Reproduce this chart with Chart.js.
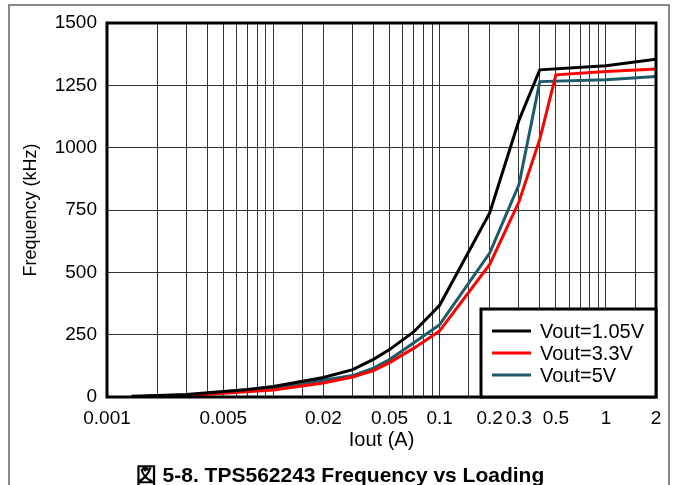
<!DOCTYPE html>
<html>
<head>
<meta charset="utf-8">
<script src="https://cdn.jsdelivr.net/npm/chart.js@4"></script>
<style>
  body { margin: 0; background: #fff; }
  #frame { position: absolute; left: 8px; top: 4px; width: 662px; height: 600px; border: 2px solid #888; border-bottom: none; box-sizing: border-box; }
  #wrap { position: absolute; left: 0; top: 0; width: 676px; height: 485px; }
  #caption { position: absolute; left: 0; width: 680px; top: 461px; text-align: center;
             font: bold 21px "Liberation Sans", Arial, sans-serif; color: #000; }
</style>
</head>
<body>
<div id="frame"></div>
<div id="wrap"><canvas id="chart" width="676" height="485"></canvas></div>
<div id="caption">図 5-8. TPS562243 Frequency vs Loading</div>
<script>
// datos
const seriesNames = ["Vout=1.05V", "Vout=3.3V", "Vout=5V"];
const seriesColors = ["#000000", "#ff0000", "#1d5a6a"];

const iout105 = [0.0014, 0.002, 0.003, 0.005, 0.007, 0.01, 0.02, 0.03, 0.04, 0.05, 0.07, 0.1, 0.2, 0.3, 0.4, 1, 2];
const freq105 = [3, 6, 10, 22, 30, 42, 78, 110, 151, 190, 262, 368, 738, 1110, 1312, 1329, 1355];

const iout33 = [0.0017, 0.003, 0.005, 0.01, 0.02, 0.03, 0.04, 0.05, 0.07, 0.1, 0.2, 0.3, 0.4, 0.5, 1, 2];
const freq33 = [2, 6, 15, 28, 56, 80, 106, 138, 196, 265, 532, 783, 1033, 1292, 1305, 1316];

const iout5 = [0.0017, 0.003, 0.005, 0.01, 0.02, 0.03, 0.04, 0.05, 0.07, 0.1, 0.2, 0.3, 0.4, 1, 2];
const freq5 = [3, 8, 20, 36, 67, 86, 116, 150, 218, 290, 577, 852, 1265, 1272, 1285];

const xTickLabels = [0.001, 0.005, 0.02, 0.05, 0.1, 0.2, 0.3, 0.5, 1, 2];
const yTicks = [0, 250, 500, 750, 1000, 1250, 1500];

const FONT = '"Liberation Sans", Arial, sans-serif';

function toPoints(xs, ys) {
    return xs.map((x, i) => ({ x: x, y: ys[i] }));
}

// caja del grafico
const frameBox = {
    id: "frameBox",
    afterDatasetsDraw(chart) {
        const a = chart.chartArea;
        const ctx = chart.ctx;
        ctx.save();
        ctx.strokeStyle = "#000";
        ctx.lineWidth = 3;
        ctx.strokeRect(a.left, a.top, a.right - a.left, a.bottom - a.top);
        ctx.restore();
    }
};

// leyenda dentro del area, abajo a la derecha
const boxLegend = {
    id: "boxLegend",
    afterDraw(chart) {
        const a = chart.chartArea;
        const ctx = chart.ctx;
        const w = 175, h = 88;
        const x0 = a.right - w, y0 = a.bottom - h;
        ctx.save();
        ctx.fillStyle = "#fff";
        ctx.fillRect(x0, y0, w, h);
        ctx.strokeStyle = "#000";
        ctx.lineWidth = 3;
        ctx.strokeRect(x0, y0, w, h);
        ctx.font = "20px " + FONT;
        ctx.textBaseline = "middle";
        chart.data.datasets.forEach((ds, i) => {
            const yy = y0 + 22 + i * 22;
            ctx.strokeStyle = ds.borderColor;
            ctx.lineWidth = 3;
            ctx.beginPath();
            ctx.moveTo(x0 + 11, yy);
            ctx.lineTo(x0 + 50, yy);
            ctx.stroke();
            ctx.fillStyle = "#000";
            ctx.fillText(ds.label, x0 + 59, yy + 1);
        });
        ctx.restore();
    }
};

const ctx = document.getElementById("chart").getContext("2d");

new Chart(ctx, {
    type: "line",
    data: {
        datasets: [
            { label: seriesNames[0], data: toPoints(iout105, freq105), borderColor: seriesColors[0] },
            { label: seriesNames[1], data: toPoints(iout33, freq33), borderColor: seriesColors[1] },
            { label: seriesNames[2], data: toPoints(iout5, freq5), borderColor: seriesColors[2] }
        ]
    },
    options: {
        responsive: false,
        animation: false,
        layout: { padding: { top: 23, right: 20, left: 20, bottom: 33 } },
        elements: {
            line: { borderWidth: 3, tension: 0, borderJoinStyle: "miter" },
            point: { radius: 0 }
        },
        plugins: {
            legend: { display: false },
            tooltip: { enabled: false }
        },
        scales: {
            x: {
                type: "logarithmic",
                min: 0.001,
                max: 2,
                grid: { color: "#333", lineWidth: 1, drawTicks: false },
                border: { display: false },
                ticks: {
                    autoSkip: false,
                    maxRotation: 0,
                    padding: 10,
                    color: "#000",
                    font: { family: FONT, size: 19 },
                    callback: function(value) {
                        const hit = xTickLabels.find(t => Math.abs(value - t) / t < 1e-6);
                        return hit === undefined ? "" : String(hit);
                    }
                },
                title: {
                    display: true,
                    text: "Iout (A)",
                    color: "#000",
                    font: { family: FONT, size: 20 },
                    padding: { top: 0, bottom: 0 }
                },
                afterFit: function(scale) { scale.height = 55; }
            },
            y: {
                min: 0,
                max: 1500,
                afterBuildTicks: function(scale) {
                    scale.ticks = yTicks.map(v => ({ value: v }));
                },
                grid: { color: "#333", lineWidth: 1, drawTicks: false },
                border: { display: false },
                ticks: {
                    padding: 10,
                    color: "#000",
                    font: { family: FONT, size: 19 },
                    callback: function(value) { return String(value); }
                },
                title: {
                    display: true,
                    text: "Frequency (kHz)",
                    color: "#000",
                    font: { family: FONT, size: 18 },
                    padding: { top: 0, bottom: 4 }
                },
                afterFit: function(scale) { scale.width = 87; }
            }
        }
    },
    plugins: [frameBox, boxLegend]
});
</script>
</body>
</html>
